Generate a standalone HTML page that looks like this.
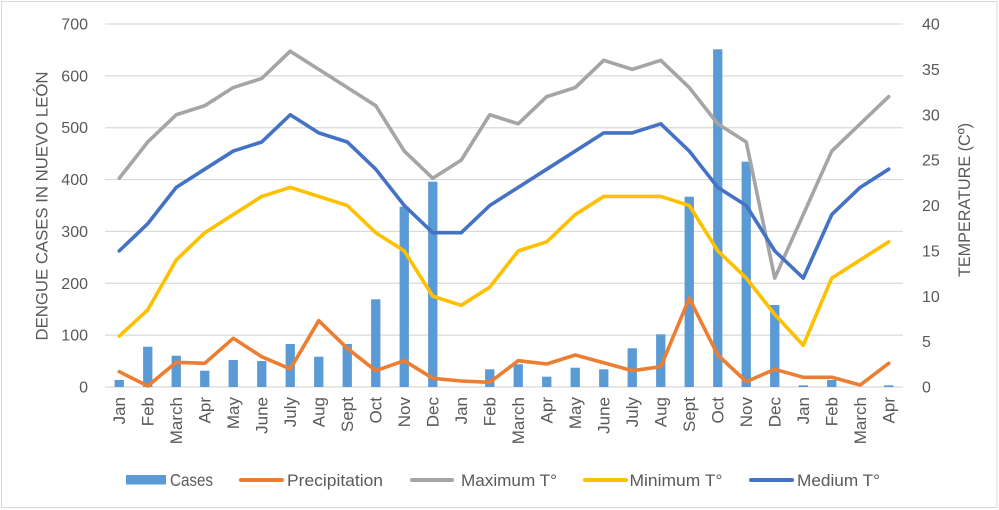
<!DOCTYPE html>
<html>
<head>
<meta charset="utf-8">
<style>
  html,body{margin:0;padding:0;background:#fff;}
  svg{display:block;}
  text{font-family:"Liberation Sans",sans-serif;fill:#595959;}
</style>
</head>
<body>
<svg width="999" height="510" viewBox="0 0 999 510" xmlns="http://www.w3.org/2000/svg">
  <rect x="1.5" y="1.5" width="995.5" height="506" fill="#fff" stroke="#d9d9d9" stroke-width="1"/>
  <g id="grid" stroke="#d9d9d9" stroke-width="1.2"></g>
  <g id="ylab" font-size="16"></g>
  <g id="bars" fill="#5b9bd5"></g>
  <g id="lines" fill="none" stroke-width="3.6" stroke-linejoin="round" stroke-linecap="round"></g>
  <g id="xlab" font-size="17"></g>

  <text transform="translate(47.5,206) rotate(-90)" text-anchor="middle" font-size="17" textLength="269" lengthAdjust="spacingAndGlyphs">DENGUE CASES IN NUEVO LEÓN</text>
  <text transform="translate(970,200) rotate(-90)" text-anchor="middle" font-size="17" textLength="154" lengthAdjust="spacingAndGlyphs">TEMPERATURE (Cº)</text>

  <!-- legend -->
  <rect x="126" y="475" width="40" height="9.5" fill="#5b9bd5"/>
  <text x="170" y="486" font-size="17.5" textLength="43" lengthAdjust="spacingAndGlyphs">Cases</text>
  <line x1="241" y1="480" x2="282" y2="480" stroke="#ed7d31" stroke-width="4" stroke-linecap="round"/>
  <text x="287" y="486" font-size="17" textLength="96" lengthAdjust="spacingAndGlyphs">Precipitation</text>
  <line x1="412" y1="480" x2="452" y2="480" stroke="#a5a5a5" stroke-width="4" stroke-linecap="round"/>
  <text x="461" y="486" font-size="17" textLength="96" lengthAdjust="spacingAndGlyphs">Maximum T°</text>
  <line x1="585" y1="480" x2="626" y2="480" stroke="#ffc000" stroke-width="4" stroke-linecap="round"/>
  <text x="629.5" y="486" font-size="17" textLength="93" lengthAdjust="spacingAndGlyphs">Minimum T°</text>
  <line x1="751" y1="480" x2="792" y2="480" stroke="#4472c4" stroke-width="4" stroke-linecap="round"/>
  <text x="797" y="486" font-size="17" textLength="83" lengthAdjust="spacingAndGlyphs">Medium T°</text>
</svg>
<script>
(function(){
  var NS="http://www.w3.org/2000/svg";
  function el(tag,attrs,parent,txt){var e=document.createElementNS(NS,tag);for(var k in attrs)e.setAttribute(k,attrs[k]);if(txt!==undefined)e.textContent=txt;parent.appendChild(e);return e;}
  var y0=387, step=(387-24)/7;
  var grid=document.getElementById('grid'), ylab=document.getElementById('ylab');
  for(var k=0;k<=7;k++){
    var y=y0-k*step;
    el('line',{x1:105,x2:903,y1:y,y2:y},grid);
    el('text',{x:88,y:y+5.5,'text-anchor':'end'},ylab,String(k*100));
  }
  var rstep=(387-24)/8;
  for(var j=0;j<=8;j++){
    var yr=y0-j*rstep;
    el('text',{x:922,y:yr+5.5,'text-anchor':'start'},ylab,String(j*5));
  }
  var cw=28.5;
  function cx(i){return 105+cw*(i+0.5);}
  var months=["Jan","Feb","March","Apr","May","June","July","Aug","Sept","Oct","Nov","Dec","Jan","Feb","March","Apr","May","June","July","Aug","Sept","Oct","Nov","Dec","Jan","Feb","March","Apr"];
  var xlab=document.getElementById('xlab');
  months.forEach(function(m,i){
    el('text',{transform:'translate('+(cx(i)+5.8)+',397) rotate(-90)','text-anchor':'end'},xlab,m);
  });
  var bars=[380,346.7,355.7,370.7,360,361,344,356.7,344,299.3,206.7,181.7,null,369.3,364.3,376.7,367.7,369.3,348.3,334.3,196.7,49.3,161.7,305,385.3,380,null,385.3];
  var bg=document.getElementById('bars');
  bars.forEach(function(t,i){ if(t===null)return; el('rect',{x:cx(i)-4.65,y:t,width:9.3,height:387-t},bg); });
  var T=9.075;
  function ty(v){return 387-v*T;}
  var precip=[371.7,386,362.3,363.3,338.3,356.7,369,320.7,348.3,370.7,360.7,378.3,381,382.3,360.7,364,355,362.7,370.7,366.7,298.3,355,381.7,369.3,377.3,377.3,385,363.3];
  var maxT=[23,27,30,31,33,34,37,35,33,31,26,23,25,30,29,32,33,36,35,36,33,29,27,12,19,26,29,32];
  var minT=[5.6,8.5,14,17,19,21,22,21,20,17,15,10,9,11,15,16,19,21,21,21,20,15,12,8,4.6,12,14,16];
  var medT=[15,18,22,24,26,27,30,28,27,24,20,17,17,20,22,24,26,28,28,29,26,22,20,15,12,19,22,24];
  var lg=document.getElementById('lines');
  function poly(ys,color){
    var pts=ys.map(function(y,i){return cx(i).toFixed(2)+','+y.toFixed(2);}).join(' ');
    el('polyline',{points:pts,stroke:color},lg);
  }
  poly(precip,'#ed7d31');
  poly(maxT.map(ty),'#a5a5a5');
  poly(minT.map(ty),'#ffc000');
  poly(medT.map(ty),'#4472c4');
})();
</script>
</body>
</html>
